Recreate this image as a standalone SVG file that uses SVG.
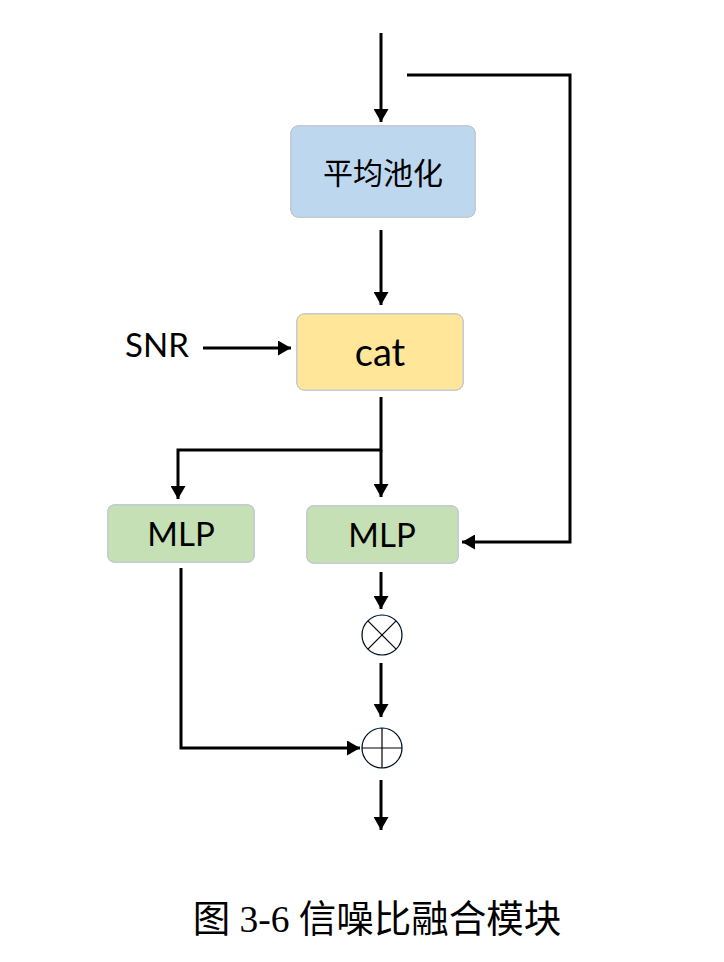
<svg xmlns="http://www.w3.org/2000/svg" width="724" height="962" viewBox="0 0 724 962">
<style>
.box{stroke:#C8C8C8;stroke-width:1}
.lbl{font-family:Lato,"Open Sans","Liberation Sans",sans-serif;fill:#000;text-anchor:middle}
.cn{font-family:"Noto Sans CJK SC",sans-serif;fill:#000;text-anchor:middle}
.ln{fill:none;stroke:#000;stroke-width:3}
.op{fill:#fff;stroke:#000;stroke-width:1.2}
.opl{stroke:#000;stroke-width:1.2}
</style>
<defs>
<marker id="ah" viewBox="0 0 13 15" refX="13" refY="7.5" markerWidth="13" markerHeight="15" markerUnits="userSpaceOnUse" orient="auto">
<path d="M0,0 L13,7.5 L0,15 Z" fill="#000"/>
</marker>
<filter id="sh" x="-20%" y="-20%" width="140%" height="150%">
<feGaussianBlur in="SourceAlpha" stdDeviation="3"/>
<feOffset dx="0" dy="4"/>
<feComponentTransfer><feFuncA type="linear" slope="0.25"/></feComponentTransfer>
<feFlood flood-color="#5B9BD5"/>
<feComposite operator="in" in2="SourceAlpha"/>
<feMerge><feMergeNode/><feMergeNode in="SourceGraphic"/></feMerge>
</filter>
</defs>
<rect width="724" height="962" fill="#fff"/>
<g id="connectors">
<line class="ln" x1="381" y1="33" x2="381" y2="122" marker-end="url(#ah)"/>
<polyline class="ln" points="407,75 570,75 570,542 462,542" marker-end="url(#ah)"/>
<line class="ln" x1="381" y1="230" x2="381" y2="305" marker-end="url(#ah)"/>
<line class="ln" x1="203" y1="348" x2="291" y2="348" marker-end="url(#ah)"/>
<polyline class="ln" points="381,397 381,450 178,450 178,499" marker-end="url(#ah)"/>
<line class="ln" x1="381" y1="450" x2="381" y2="497" marker-end="url(#ah)"/>
<line class="ln" x1="381" y1="572" x2="381" y2="609" marker-end="url(#ah)"/>
<line class="ln" x1="381" y1="663" x2="381" y2="717" marker-end="url(#ah)"/>
<polyline class="ln" points="181,568 181,748 360,748" marker-end="url(#ah)"/>
<line class="ln" x1="381" y1="780" x2="381" y2="830" marker-end="url(#ah)"/>
</g>
<g id="pool">
<rect class="box" x="291" y="126" width="184" height="91" rx="7" fill="#BDD7EE" filter="url(#sh)"/>
<text class="cn" x="383" y="184" font-size="30">平均池化</text>
</g>
<g id="snr">
<text class="lbl" x="157" y="357" font-size="33">SNR</text>
</g>
<g id="cat">
<rect class="box" x="297" y="314" width="166" height="76" rx="7" fill="#FFE699" filter="url(#sh)"/>
<text class="lbl" x="380" y="366" font-size="38">cat</text>
</g>
<g id="mlp1">
<rect class="box" x="108" y="505" width="146" height="57" rx="6" fill="#C5E0B4" filter="url(#sh)"/>
<text class="lbl" x="181" y="546" font-size="33">MLP</text>
</g>
<g id="mlp2">
<rect class="box" x="307" y="506" width="151" height="57" rx="6" fill="#C5E0B4" filter="url(#sh)"/>
<text class="lbl" x="382" y="547" font-size="33">MLP</text>
</g>
<g id="mul" filter="url(#sh)">
<circle class="op" cx="382" cy="635" r="20"/>
<line class="opl" x1="367.9" y1="620.9" x2="396.1" y2="649.1"/>
<line class="opl" x1="396.1" y1="620.9" x2="367.9" y2="649.1"/>
</g>
<g id="add" filter="url(#sh)">
<circle class="op" cx="382" cy="748" r="20"/>
<line class="opl" x1="362" y1="748" x2="402" y2="748"/>
<line class="opl" x1="382" y1="728" x2="382" y2="768"/>
</g>
<g id="caption">
<text x="377" y="932" font-size="37.5" text-anchor="middle" font-family="'Liberation Serif','Noto Sans CJK SC',serif">图 3-6 信噪比融合模块</text>
</g>
</svg>
